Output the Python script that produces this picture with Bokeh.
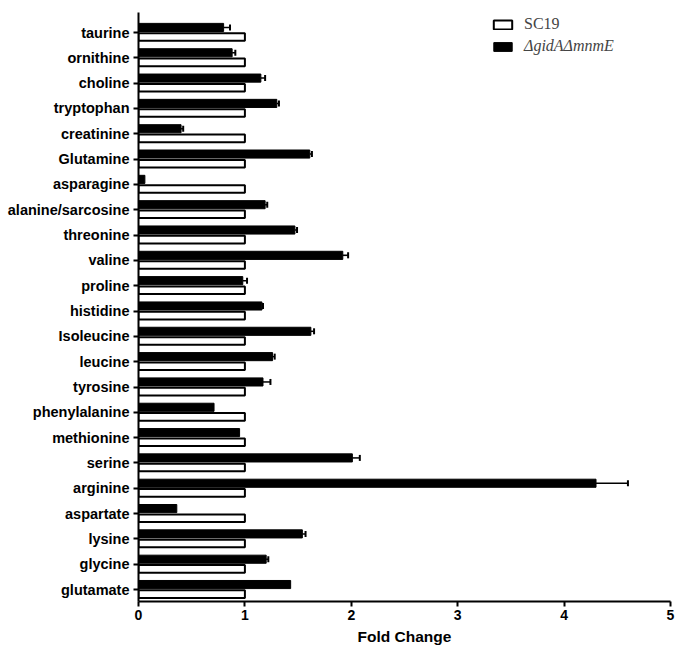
from bokeh.plotting import figure
from bokeh.models import (ColumnDataSource, FixedTicker, Legend, LegendItem,
                          Whisker, TeeHead, Range1d)
from bokeh.embed import file_html
from bokeh.resources import INLINE

categories = ["taurine", "ornithine", "choline", "tryptophan", "creatinine",
              "Glutamine", "asparagine", "alanine/sarcosine", "threonine",
              "valine", "proline", "histidine", "Isoleucine", "leucine",
              "tyrosine", "phenylalanine", "methionine", "serine", "arginine",
              "aspartate", "lysine", "glycine", "glutamate"]
mutant = [0.80, 0.88, 1.15, 1.30, 0.40, 1.61, 0.06, 1.19, 1.47, 1.92, 0.98,
          1.16, 1.62, 1.26, 1.17, 0.71, 0.95, 2.01, 4.30, 0.36, 1.54, 1.20, 1.43]
mutant_err = [0.06, 0.03, 0.04, 0.02, 0.02, 0.02, 0.0, 0.02, 0.02, 0.05, 0.04,
              0.01, 0.03, 0.02, 0.07, 0.0, 0.0, 0.07, 0.30, 0.0, 0.03, 0.02, 0.0]
sc19 = [1.0] * len(categories)
x_ticks = [0, 1, 2, 3, 4, 5]

n = len(categories)
pos = [n - 1 - i for i in range(n)]  # top to bottom

src_m = ColumnDataSource(dict(y=[p + 0.2 for p in pos], x=mutant))
src_w = ColumnDataSource(dict(y=[p - 0.18 for p in pos], x=sc19))
err_idx = [i for i in range(n) if mutant_err[i] > 0]
src_e = ColumnDataSource(dict(
    base=[pos[i] + 0.2 for i in err_idx],
    lower=[mutant[i] for i in err_idx],
    upper=[mutant[i] + mutant_err[i] for i in err_idx]))

p = figure(width=678, height=652, output_backend="svg", toolbar_location=None,
           x_range=Range1d(0, 5), y_range=Range1d(-0.47, n - 1 + 0.79),
           min_border_left=138, min_border_right=8, min_border_top=12,
           min_border_bottom=51)
p.outline_line_color = None
p.xgrid.visible = False
p.ygrid.visible = False

r_w = p.hbar(y="y", right="x", left=0, height=0.3, source=src_w,
             fill_color="white", line_color="black", line_width=2)
r_m = p.hbar(y="y", right="x", left=0, height=0.32, source=src_m,
             fill_color="black", line_color="black", line_width=1)

wh = Whisker(source=src_e, base="base", lower="lower", upper="upper",
             dimension="width", line_color="black", line_width=1.5,
             upper_head=TeeHead(size=6, line_width=2, line_color="black"),
             lower_head=None)
p.add_layout(wh)

p.yaxis.ticker = FixedTicker(ticks=pos)
p.yaxis.major_label_overrides = {pos[i]: categories[i] for i in range(n)}
p.xaxis.ticker = FixedTicker(ticks=x_ticks)
p.xaxis.axis_label = "Fold Change"

for ax in (p.xaxis[0], p.yaxis[0]):
    ax.axis_line_width = 2
    ax.major_tick_line_width = 2
    ax.major_tick_out = 5
    ax.major_tick_in = 0
    ax.minor_tick_line_color = None
    ax.major_label_text_font = "Liberation Sans"
    ax.major_label_text_font_style = "bold"
    ax.major_label_text_color = "black"
    ax.axis_line_color = "black"
    ax.major_tick_line_color = "black"

p.yaxis.major_label_text_font_size = "14.5px"
p.yaxis.major_label_standoff = 4
p.xaxis.major_label_text_font_size = "14px"
p.xaxis.major_label_standoff = 3
p.xaxis.axis_label_text_font = "Liberation Sans"
p.xaxis.axis_label_text_font_style = "bold"
p.xaxis.axis_label_text_font_size = "15.5px"
p.xaxis.axis_label_standoff = 5
p.xaxis.axis_label_text_color = "black"

common = dict(glyph_width=23, glyph_height=11, label_standoff=10,
              label_text_font="Liberation Serif", label_text_font_size="16px",
              padding=0, margin=0, border_line_alpha=0,
              background_fill_alpha=0, label_height=16)
leg1 = Legend(items=[LegendItem(label="SC19", renderers=[r_w])],
              location=(353, 568), **common)
leg2 = Legend(items=[LegendItem(label="ΔgidAΔmnmE", renderers=[r_m])],
              location=(353, 546), label_text_font_style="italic", **common)
p.add_layout(leg1)
p.add_layout(leg2)

open("out.html", "w").write(file_html(p, INLINE))
